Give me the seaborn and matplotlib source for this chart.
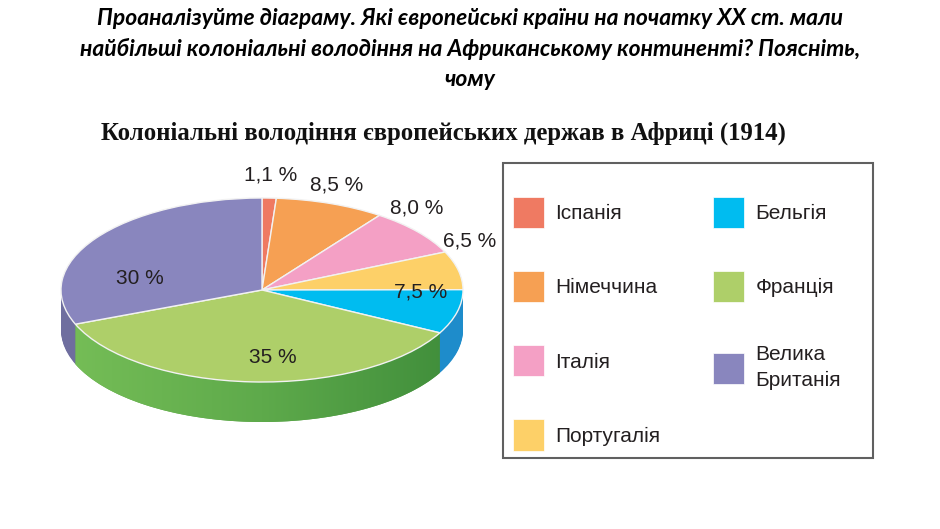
import matplotlib
matplotlib.use("Agg")
import matplotlib.pyplot as plt
from matplotlib.patches import Patch, Rectangle, Polygon
from matplotlib.colors import LinearSegmentedColormap
import seaborn as sns
import numpy as np

# ---- data ----
countries = ["Іспанія", "Німеччина", "Італія", "Португалія", "Бельгія", "Франція", "Велика\nБританія"]
shares = [1.1, 8.5, 8.0, 6.5, 7.5, 35, 30]
pct_labels = ["1,1 %", "8,5 %", "8,0 %", "6,5 %", "7,5 %", "35 %", "30 %"]

# ---- style ----
top_colors = ["#EF7A62", "#F6A053", "#F4A0C5", "#FDD068", "#00BCF0", "#AECF69", "#8986BE"]
side_colors = ["#C85A45", "#D4803A", "#D07FA0", "#DDB050", "#1E8CCB", "#5AA548", "#6F6E9F"]
label_r = [1.25, 1.2, 1.18, 1.16, 0.79, 0.74, 0.62]
label_dtheta = [0, 2, 10, 15, 12, 7, 22]

sns.set_theme(style="white")
plt.rcParams["font.family"] = ["Liberation Sans", "DejaVu Sans"]

W, H = 940, 529
fig = plt.figure(figsize=(9.4, 5.29), dpi=100)
fig.patch.set_facecolor("white")

# header question
header = ("Проаналізуйте діаграму. Які європейські країни на початку ХХ ст. мали\n"
          "найбільші колоніальні володіння на Африканському континенті? Поясніть,\n"
          "чому")
fig.text(0.5, 1 - 49 / H, header, ha="center", va="center", fontsize=16.5,
         family=["Lato", "DejaVu Sans"], fontweight="bold", style="italic",
         linespacing=1.5, color="black")

# chart title
fig.text(443 / W, 1 - 133 / H, "Колоніальні володіння європейських держав в Африці (1914)",
         ha="center", va="center", fontsize=17.8, fontweight="bold",
         family=["Liberation Serif", "DejaVu Serif"], color="#111111")

# pie axes in pixel box
cx, cy, rx, ry = 262, 290, 201, 92
L, R, T, B = 30, 500, 150, 470
ax = fig.add_axes([L / W, 1 - B / H, (R - L) / W, (B - T) / H])

depth = 40 / ry
nlayers = 40
for k in range(nlayers, 0, -1):
    off = depth * k / nlayers
    ax.pie(shares, colors=side_colors, startangle=90, counterclock=False,
           center=(0, -off), radius=1, normalize=True,
           wedgeprops=dict(linewidth=0, antialiased=True))

wedges, _ = ax.pie(shares, colors=top_colors, startangle=90, counterclock=False,
                   center=(0, 0), radius=1, normalize=True,
                   wedgeprops=dict(edgecolor="#F2F2F2", linewidth=1.0))

# gradient on the front (France) side wall
fw = wedges[5]
t = np.deg2rad(np.linspace(fw.theta1, fw.theta2, 200))
t = t[np.sin(t) <= 0.001]
xs = np.cos(t)
ys = np.sin(t)
poly_xy = np.concatenate([np.column_stack([xs, ys]),
                          np.column_stack([xs[::-1], ys[::-1] - depth])])
clip = Polygon(poly_xy, closed=True, transform=ax.transData, facecolor="none", edgecolor="none")
ax.add_patch(clip)
grad_cmap = LinearSegmentedColormap.from_list("g", ["#76BE57", "#5EAA4B", "#3E8C3A"])
img = ax.imshow(np.linspace(0, 1, 256)[None, :], cmap=grad_cmap, aspect="auto",
                extent=(-1, 1, -1 - depth, 0.1), zorder=1.5, interpolation="bilinear")
img.set_clip_path(clip)
for w in wedges:
    w.set_zorder(2)

for w, lab, r, dt in zip(wedges, pct_labels, label_r, label_dtheta):
    mid = np.deg2rad((w.theta1 + w.theta2) / 2 + dt)
    ax.text(r * np.cos(mid), r * np.sin(mid), lab, ha="center", va="center",
            fontsize=15, color="#231F20", zorder=3)

ax.set_aspect("auto")
ax.set_xlim((L - cx) / rx, (R - cx) / rx)
ax.set_ylim((cy - B) / ry, (cy - T) / ry)
ax.axis("off")

# legend frame
fig.patches.append(Rectangle((503 / W, 1 - 458 / H), 370 / W, 295 / H,
                             transform=fig.transFigure, fill=False,
                             edgecolor="#606060", linewidth=1.5))

handles = [Patch(facecolor=c, edgecolor="white", linewidth=0.5) for c in top_colors]
leg = fig.legend(handles, countries, loc="upper left",
                 bbox_to_anchor=(513 / W, 1 - 197 / H), bbox_transform=fig.transFigure,
                 ncol=2, frameon=False, fontsize=15, borderpad=0, borderaxespad=0,
                 handlelength=1.49, handleheight=1.915, handletextpad=0.53,
                 labelspacing=2.07, columnspacing=2.55, labelcolor="#231F20")
leg.get_texts()[6].set_linespacing(1.45)

fig.savefig("out.png", dpi=100, facecolor="white")
